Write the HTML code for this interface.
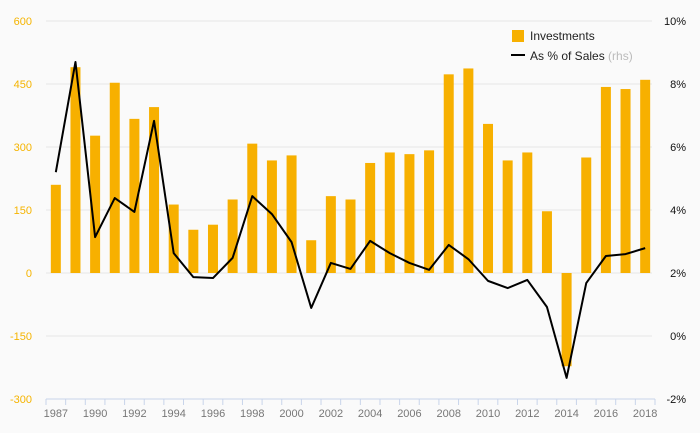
<!DOCTYPE html>
<html><head><meta charset="utf-8"><style>
body{margin:0;background:#fafafa;}
svg{display:block;font-family:"Liberation Sans",sans-serif;}
</style></head><body>
<svg id="c" width="700" height="433"></svg>
<script>
const tickLabels=["1987","","1990","","1992","","1994","","1996","","1998","","2000","","2002","","2004","","2006","","2008","","2010","","2012","","2014","","2016","","2018"];
const investments=[210,490,327,453,367,395,163,103,115,175,308,268,280,78,183,175,262,287,283,292,473,487,355,268,287,147,-222,275,443,438,460];
const pctSales=[5.2,8.7,3.14,4.38,3.94,6.83,2.63,1.87,1.84,2.48,4.44,3.87,2.98,0.89,2.32,2.13,3.02,2.63,2.32,2.1,2.89,2.44,1.75,1.52,1.78,0.92,-1.33,1.68,2.54,2.6,2.79];
const leftTicks=[600,450,300,150,0,-150,-300];
const rightTicks=[10,8,6,4,2,0,-2];
const NS="http://www.w3.org/2000/svg";
const svg=document.getElementById('c');
const X0=46,X1=655,YT=21,YB=399,n=investments.length,bw=(X1-X0)/n;
const yL=v=>YB-(v+300)/900*(YB-YT);
const yR=v=>YB-(v+2)/12*(YB-YT);
const xC=i=>X0+bw*(i+0.5);
function mk(t,a,txt){const e=document.createElementNS(NS,t);for(const k in a)e.setAttribute(k,a[k]);if(txt!=null)e.textContent=txt;svg.appendChild(e);return e;}
leftTicks.forEach((v,i)=>{
 if(v!==-300){const g=mk('line',{x1:X0,x2:652,y1:yL(v),y2:yL(v),stroke:'#e6e6e6','stroke-width':1});
 
 }
 const t=mk('text',{x:32,y:yL(v)+4,'text-anchor':'end','font-size':11,fill:'#f5b400'},v);
 
 
 const r=mk('text',{x:686,y:yR(rightTicks[i])+4,'text-anchor':'end','font-size':11,fill:'#111'},rightTicks[i]+'%');
 
 
});
const ax=mk('line',{x1:X0,x2:X1,y1:YB,y2:YB,stroke:'#c8d4ea','stroke-width':1});


for(let i=0;i<=n;i++){const t=mk('line',{x1:X0+bw*i,x2:X0+bw*i,y1:YB,y2:YB+6,stroke:'#c8d4ea'});
 
 }
investments.forEach((v,i)=>{
 const y=Math.min(yL(v),yL(0)),h=Math.abs(yL(v)-yL(0));
 const b=mk('rect',{x:xC(i)-5,y:y,width:10,height:h,fill:'#f7b000'});
 
 
 if(tickLabels[i]){const t=mk('text',{x:xC(i),y:417,'text-anchor':'middle','font-size':11,fill:'#777'},tickLabels[i]);
 
 }
});
const p=mk('polyline',{points:pctSales.map((v,i)=>xC(i)+','+yR(v)).join(' '),fill:'none',stroke:'#000','stroke-width':2,'stroke-linejoin':'round'});


const l1=mk('rect',{x:512,y:30,width:12,height:12,fill:'#f7b000'});


const t1=mk('text',{x:530,y:40,'font-size':12,fill:'#222'},'Investments');


const l2=mk('line',{x1:511,x2:525,y1:55,y2:55,stroke:'#000','stroke-width':2});


const t2=mk('text',{x:530,y:60,'font-size':12,fill:'#222'},'As % of Sales ');


const ts=document.createElementNS(NS,'tspan');ts.setAttribute('fill','#bbb');ts.textContent='(rhs)';t2.appendChild(ts);
</script>
</body></html>
